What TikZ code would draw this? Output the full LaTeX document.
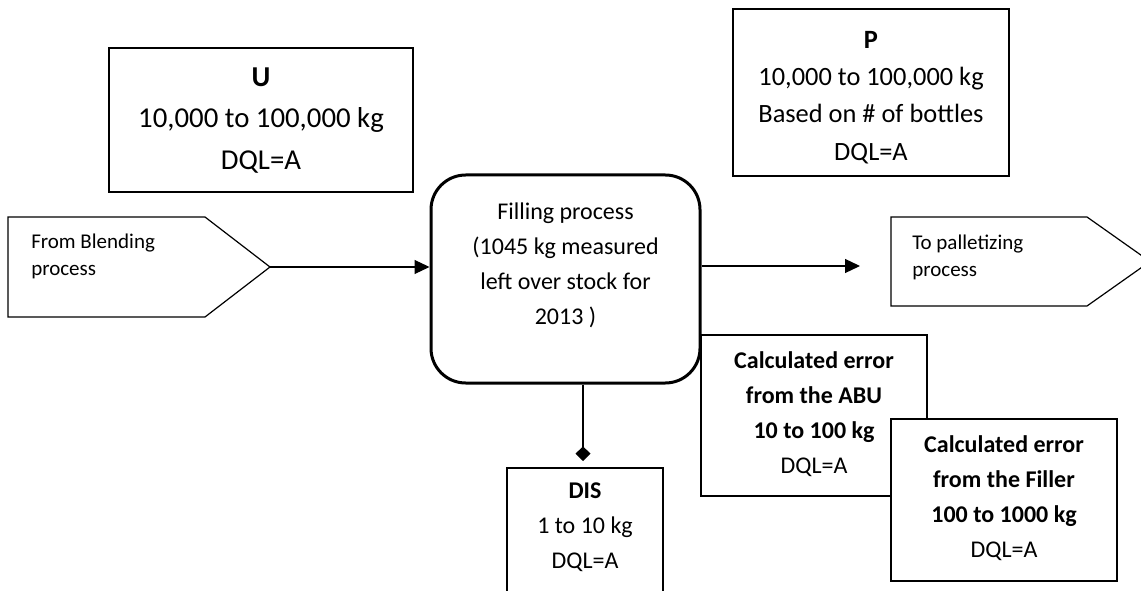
\documentclass[tikz,border=0pt]{standalone}
\usepackage{fontspec}
\setmainfont{Carlito}
\usetikzlibrary{arrows.meta}
\tikzset{
  boxshape/.style={draw, line width=0.9pt, fill=white, inner sep=0pt},
  txt/.style={inner sep=0pt, align=center},
  fmain/.style={font=\fontsize{18}{26.25}\selectfont},
  fsmall/.style={font=\fontsize{15.75}{20.25}\selectfont},
  conn/.style={line width=0.9pt},
}
\begin{document}
\begin{tikzpicture}[x=0.75pt,y=-0.75pt]
\useasboundingbox (0,0) rectangle (1141,591);
\clip (0,0) rectangle (1141,591);
\fill[white] (0,0) rectangle (1141,591);

% U box
\node[boxshape, minimum width=228pt, minimum height=108pt] (ubox) at (261,120) {};
\node[txt, font=\fontsize{21.6}{31}\selectfont] (utext) at (261,120.5) {\textbf{U}\\10,000 to 100,000 kg\\DQL=A};

% P box
\node[boxshape, minimum width=207pt, minimum height=125.25pt] (pbox) at (871,92.5) {};
\node[txt, font=\fontsize{19.8}{28}\selectfont] (ptext) at (871,97.5) {\textbf{P}\\10,000 to 100,000 kg\\Based on \# of bottles\\DQL=A};

% From Blending pentagon
\draw[line width=0.9pt, fill=white] (8,217) -- (205,217) -- (270,267) -- (205,317) -- (8,317) -- cycle;
\coordinate (fromtip) at (270,267);
\node[txt, align=left, anchor=west, fsmall] (fromtext) at (31,256.5) {From Blending\\process};

% To palletizing pentagon
\draw[line width=0.9pt, fill=white] (891,217) -- (1087,217) -- (1150,261.5) -- (1087,306) -- (891,306) -- cycle;
\coordinate (toend) at (860,266);
\node[txt, align=left, anchor=west, fsmall] (totext) at (912,257.5) {To palletizing\\process};

% Filling process
\node[draw, line width=2.25pt, rounded corners=26pt, fill=white, minimum width=201.75pt, minimum height=156pt, inner sep=0pt] (fill) at (565.5,279) {};
\node[txt, fmain] (filltext) at (565.5,265) {Filling process\\(1045 kg measured\\left over stock for\\2013 )};

% ABU box
\node[boxshape, minimum width=169.5pt, minimum height=120.75pt] (abu) at (814,415.5) {};
\node[txt, fmain] (abutext) at (814,414) {\textbf{Calculated error}\\\textbf{from the ABU}\\\textbf{10 to 100 kg}\\DQL=A};

% Filler box
\node[boxshape, minimum width=169.5pt, minimum height=121.5pt] (filler) at (1004,500) {};
\node[txt, fmain] (fillertext) at (1004,498.5) {\textbf{Calculated error}\\\textbf{from the Filler}\\\textbf{100 to 1000 kg}\\DQL=A};

% DIS box
\node[boxshape, minimum width=117pt, minimum height=114pt] (dis) at (585,544) {};
\node[txt, fmain] (distext) at (585,527.7) {\textbf{DIS}\\1 to 10 kg\\DQL=A};

% connectors
\draw[conn, -{Triangle[length=11.25pt,width=10.5pt]}] (fromtip) -- (fromtip -| fill.west);
\draw[conn, -{Triangle[length=11.25pt,width=10.5pt]}] (fill.east |- toend) -- (toend);
\coordinate (distop) at (583,461);
\draw[conn, -{Diamond[length=11pt,width=11.25pt]}] (fill.south -| distop) -- (distop);
\end{tikzpicture}
\end{document}
